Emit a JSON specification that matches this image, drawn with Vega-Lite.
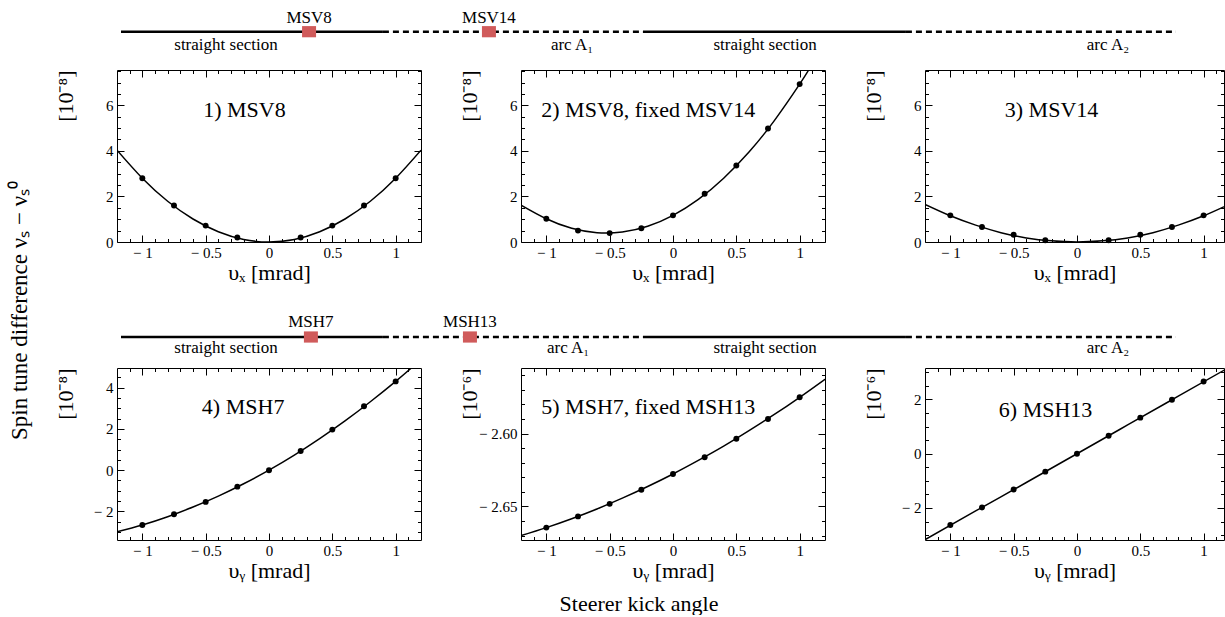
{
  "$schema": "https://vega.github.io/schema/vega-lite/v6.json",
  "background": "white",
  "padding": {"left": 8, "top": 6, "right": 0, "bottom": 0},
  "config": {
    "font": "Liberation Serif",
    "view": {"stroke": "black", "strokeWidth": 1},
    "text": {"font": "Liberation Serif"},
    "axis": {
      "labelFont": "Liberation Serif", "titleFont": "Liberation Serif",
      "labelFontSize": 15, "titleFontSize": 22, "labelColor": "black", "titleColor": "black",
      "titleFontWeight": "normal", "gridColor": "black", "gridOpacity": 1, "gridWidth": 1,
      "labelFlush": false, "labelOverlap": false, "labelBound": false, "ticks": false, "domain": false
    }
  },
  "datasets": {
    "curves": [
      {"p":1,"x":-1.2,"y":4.03},{"p":1,"x":-1,"y":2.8},{"p":1,"x":-0.8,"y":1.79},{"p":1,"x":-0.6,"y":1.01},{"p":1,"x":-0.4,"y":0.45},{"p":1,"x":-0.2,"y":0.11},{"p":1,"x":0,"y":0},{"p":1,"x":0.2,"y":0.11},{"p":1,"x":0.4,"y":0.45},{"p":1,"x":0.6,"y":1.01},{"p":1,"x":0.8,"y":1.79},{"p":1,"x":1,"y":2.8},{"p":1,"x":1.2,"y":4.03},
      {"p":2,"x":-1.2,"y":1.62},{"p":2,"x":-1,"y":1.02},{"p":2,"x":-0.8,"y":0.6},{"p":2,"x":-0.6,"y":0.41},{"p":2,"x":-0.4,"y":0.44},{"p":2,"x":-0.2,"y":0.69},{"p":2,"x":0,"y":1.17},{"p":2,"x":0.2,"y":1.87},{"p":2,"x":0.4,"y":2.8},{"p":2,"x":0.6,"y":3.95},{"p":2,"x":0.8,"y":5.33},{"p":2,"x":1,"y":6.93},{"p":2,"x":1.07,"y":7.54},
      {"p":3,"x":-1.2,"y":1.65},{"p":3,"x":-1,"y":1.15},{"p":3,"x":-0.8,"y":0.74},{"p":3,"x":-0.6,"y":0.41},{"p":3,"x":-0.4,"y":0.18},{"p":3,"x":-0.2,"y":0.05},{"p":3,"x":0,"y":0},{"p":3,"x":0.2,"y":0.05},{"p":3,"x":0.4,"y":0.18},{"p":3,"x":0.6,"y":0.41},{"p":3,"x":0.8,"y":0.74},{"p":3,"x":1,"y":1.15},{"p":3,"x":1.2,"y":1.65},
      {"p":4,"x":-1.2,"y":-2.99},{"p":4,"x":-1,"y":-2.66},{"p":4,"x":-0.8,"y":-2.26},{"p":4,"x":-0.6,"y":-1.79},{"p":4,"x":-0.4,"y":-1.26},{"p":4,"x":-0.2,"y":-0.66},{"p":4,"x":0,"y":0},{"p":4,"x":0.2,"y":0.73},{"p":4,"x":0.4,"y":1.53},{"p":4,"x":0.6,"y":2.39},{"p":4,"x":0.8,"y":3.32},{"p":4,"x":1,"y":4.31},{"p":4,"x":1.124,"y":4.96},
      {"p":5,"x":-1.2,"y":-2.67},{"p":5,"x":-1,"y":-2.6645},{"p":5,"x":-0.8,"y":-2.6584},{"p":5,"x":-0.6,"y":-2.6517},{"p":5,"x":-0.4,"y":-2.6443},{"p":5,"x":-0.2,"y":-2.6363},{"p":5,"x":0,"y":-2.6277},{"p":5,"x":0.2,"y":-2.6184},{"p":5,"x":0.4,"y":-2.6086},{"p":5,"x":0.6,"y":-2.598},{"p":5,"x":0.8,"y":-2.5869},{"p":5,"x":1,"y":-2.5751},{"p":5,"x":1.2,"y":-2.5627},
      {"p":6,"x":-1.2,"y":-3.17},{"p":6,"x":-0.8,"y":-2.11},{"p":6,"x":-0.4,"y":-1.06},{"p":6,"x":0,"y":0},{"p":6,"x":0.4,"y":1.06},{"p":6,"x":0.8,"y":2.12},{"p":6,"x":1.2,"y":3.18}
    ],
    "points": [
      {"p":1,"x":-1,"y":2.8},{"p":1,"x":-0.75,"y":1.6},{"p":1,"x":-0.5,"y":0.72},{"p":1,"x":-0.25,"y":0.2},{"p":1,"x":0.25,"y":0.2},{"p":1,"x":0.5,"y":0.72},{"p":1,"x":0.75,"y":1.6},{"p":1,"x":1,"y":2.8},
      {"p":2,"x":-1,"y":1.02},{"p":2,"x":-0.75,"y":0.5},{"p":2,"x":-0.5,"y":0.39},{"p":2,"x":-0.25,"y":0.6},{"p":2,"x":0,"y":1.17},{"p":2,"x":0.25,"y":2.12},{"p":2,"x":0.5,"y":3.36},{"p":2,"x":0.75,"y":4.98},{"p":2,"x":1,"y":6.93},
      {"p":3,"x":-1,"y":1.17},{"p":3,"x":-0.75,"y":0.66},{"p":3,"x":-0.5,"y":0.32},{"p":3,"x":-0.25,"y":0.08},{"p":3,"x":0.25,"y":0.08},{"p":3,"x":0.5,"y":0.32},{"p":3,"x":0.75,"y":0.66},{"p":3,"x":1,"y":1.17},
      {"p":4,"x":-1,"y":-2.66},{"p":4,"x":-0.75,"y":-2.14},{"p":4,"x":-0.5,"y":-1.54},{"p":4,"x":-0.25,"y":-0.8},{"p":4,"x":0,"y":0},{"p":4,"x":0.25,"y":0.93},{"p":4,"x":0.5,"y":1.97},{"p":4,"x":0.75,"y":3.1},{"p":4,"x":1,"y":4.31},
      {"p":5,"x":-1,"y":-2.6645},{"p":5,"x":-0.75,"y":-2.6568},{"p":5,"x":-0.5,"y":-2.6482},{"p":5,"x":-0.25,"y":-2.6385},{"p":5,"x":0,"y":-2.6277},{"p":5,"x":0.25,"y":-2.6162},{"p":5,"x":0.5,"y":-2.6035},{"p":5,"x":0.75,"y":-2.59},{"p":5,"x":1,"y":-2.5751},
      {"p":6,"x":-1,"y":-2.63},{"p":6,"x":-0.75,"y":-1.98},{"p":6,"x":-0.5,"y":-1.32},{"p":6,"x":-0.25,"y":-0.66},{"p":6,"x":0,"y":0},{"p":6,"x":0.25,"y":0.66},{"p":6,"x":0.5,"y":1.33},{"p":6,"x":0.75,"y":1.99},{"p":6,"x":1,"y":2.66}
    ],
    "labels": [
      {"p":1,"text":"1) MSV8","x":-0.52,"y":5.81},
      {"p":2,"text":"2) MSV8, fixed MSV14","x":-1.04,"y":5.81},
      {"p":3,"text":"3) MSV14","x":-0.57,"y":5.81},
      {"p":4,"text":"4) MSH7","x":-0.53,"y":3.05},
      {"p":5,"text":"5) MSH7, fixed MSH13","x":-1.04,"y":-2.582},
      {"p":6,"text":"6) MSH13","x":-0.617,"y":1.6}
    ],
    "ring": [
      {"kind":"straight","start":0,"end":0.993},
      {"kind":"arc","start":0.993,"end":1.979},
      {"kind":"straight","start":1.979,"end":2.976},
      {"kind":"arc","start":2.976,"end":4.0}
    ],
    "sections": [
      {"d":1,"name":"straight section","pos":0.398},
      {"d":1,"name":"arc A₁","pos":1.71},
      {"d":1,"name":"straight section","pos":2.442},
      {"d":1,"name":"arc A₂","pos":3.742},
      {"d":2,"name":"straight section","pos":0.398},
      {"d":2,"name":"arc A₁","pos":1.695},
      {"d":2,"name":"straight section","pos":2.442},
      {"d":2,"name":"arc A₂","pos":3.742}
    ],
    "steerers": [
      {"d":1,"name":"MSV8","pos":0.713},
      {"d":1,"name":"MSV14","pos":1.395},
      {"d":2,"name":"MSH7","pos":0.72},
      {"d":2,"name":"MSH13","pos":1.323}
    ]
  },
  "title": {"text": "Spin tune difference νₛ − νₛ⁰", "orient": "left", "anchor": "middle", "font": "Liberation Serif", "fontSize": 23, "fontWeight": "normal", "color": "black", "offset": 22},
  "vconcat": [
    {
      "title": {"text": "Steerer kick angle", "orient": "bottom", "anchor": "middle", "font": "Liberation Serif", "fontSize": 22, "fontWeight": "normal", "color": "black", "offset": 12},
      "spacing": 10,
      "vconcat": [
        {
          "width": 1059, "height": 51,
          "view": {"stroke": "transparent"},
          "layer": [
            {"data": {"name": "ring"}, "mark": {"type": "rule", "strokeWidth": 2.5, "color": "black"},
             "encoding": {
               "x": {"field": "start", "type": "quantitative", "scale": {"domain": [-0.0152, 4.0], "nice": false, "zero": false}, "axis": null},
               "x2": {"field": "end"},
               "y": {"datum": 0, "type": "quantitative", "scale": {"domain": [-1.879, 1.764], "nice": false, "zero": false}, "axis": null},
               "strokeDash": {"field": "kind", "type": "nominal", "scale": {"domain": ["straight", "arc"], "range": [[1, 0], [6, 4]]}, "legend": null}
             }},
            {"data": {"name": "sections"}, "transform": [{"filter": "datum.d == 1"}],
             "mark": {"type": "text", "font": "Liberation Serif", "fontSize": 17, "align": "center", "baseline": "middle", "color": "black"},
             "encoding": {"x": {"field": "pos", "type": "quantitative"}, "y": {"datum": -0.93, "type": "quantitative"}, "text": {"field": "name"}}},
            {"data": {"name": "steerers"}, "transform": [{"filter": "datum.d == 1"}],
             "mark": {"type": "point", "shape": "M-1,-0.8H1V0.8H-1Z", "size": 196, "filled": true, "color": "#d05b5b", "opacity": 1},
             "encoding": {"x": {"field": "pos", "type": "quantitative"}, "y": {"datum": 0, "type": "quantitative"}}},
            {"data": {"name": "steerers"}, "transform": [{"filter": "datum.d == 1"}],
             "mark": {"type": "text", "font": "Liberation Serif", "fontSize": 17, "align": "center", "baseline": "middle", "color": "black"},
             "encoding": {"x": {"field": "pos", "type": "quantitative"}, "y": {"datum": 1, "type": "quantitative"}, "text": {"field": "name"}}}
          ]
        },
        {
          "hconcat": [
            {
              "width": 304, "height": 172,
              "resolve": {"axis": {"x": "independent", "y": "independent"}},
              "layer": [
                {"data": {"name": "curves"}, "transform": [{"filter": "datum.p == 1"}],
                 "mark": {"type": "line", "color": "black", "strokeWidth": 1.5, "interpolate": "natural", "clip": true},
                 "encoding": {
                   "x": {"field": "x", "type": "quantitative", "scale": {"domain": [-1.2, 1.2], "nice": false, "zero": false},
                     "axis": {"orient": "bottom", "title": "υₓ [mrad]", "values": [-1,-0.5,0,0.5,1],
                       "labelExpr": "(datum.value < -0.001 ? '− ' : '') + format(abs(datum.value), '~g')",
                       "grid": true, "gridDash": [7, 158, 7, 400],
                       "labelOverlap": false, "labelPadding": 3, "titleY": 30, "titleBaseline": "middle"}},
                   "y": {"field": "y", "type": "quantitative", "scale": {"domain": [0, 7.55], "nice": false, "zero": false},
                     "axis": {"orient": "left", "title": "[10⁻⁸]", "values": [0,2,4,6],
                       "labelExpr": "(datum.value < -0.001 ? '− ' : '') + format(abs(datum.value), '~g')",
                       "grid": true, "gridDash": [7, 290, 7, 400],
                       "labelOverlap": false, "labelPadding": 4, "titleFontSize": 22, "titleX": -52, "titleY": 0, "titleAlign": "right", "titleAngle": -90, "titleBaseline": "middle"}}
                 }},
                {"data": {"name": "points"}, "transform": [{"filter": "datum.p == 1"}],
                 "mark": {"type": "circle", "color": "black", "size": 35, "opacity": 1},
                 "encoding": {
                   "x": {"field": "x", "type": "quantitative", "axis": {"orient": "bottom", "title": null, "labels": false, "values": [-1.1,-0.9,-0.8,-0.7,-0.6,-0.4,-0.3,-0.2,-0.1,0.1,0.2,0.3,0.4,0.6,0.7,0.8,0.9,1.1], "grid": true, "gridDash": [3.5, 165, 3.5, 400]}},
                   "y": {"field": "y", "type": "quantitative", "axis": {"orient": "left", "title": null, "labels": false, "values": [0.5,1,1.5,2.5,3,3.5,4.5,5,5.5,6.5,7,7.5], "grid": true, "gridDash": [3.5, 297, 3.5, 400]}}
                 }},
                {"data": {"name": "labels"}, "transform": [{"filter": "datum.p == 1"}],
                 "mark": {"type": "text", "align": "left", "baseline": "middle", "font": "Liberation Serif", "fontSize": 22, "color": "black"},
                 "encoding": {"x": {"field": "x", "type": "quantitative", "axis": null}, "y": {"field": "y", "type": "quantitative", "axis": null}, "text": {"field": "text"}}}
              ]
            },
            {
              "width": 304, "height": 172,
              "resolve": {"axis": {"x": "independent", "y": "independent"}},
              "layer": [
                {"data": {"name": "curves"}, "transform": [{"filter": "datum.p == 2"}],
                 "mark": {"type": "line", "color": "black", "strokeWidth": 1.5, "interpolate": "natural", "clip": true},
                 "encoding": {
                   "x": {"field": "x", "type": "quantitative", "scale": {"domain": [-1.2, 1.2], "nice": false, "zero": false},
                     "axis": {"orient": "bottom", "title": "υₓ [mrad]", "values": [-1,-0.5,0,0.5,1],
                       "labelExpr": "(datum.value < -0.001 ? '− ' : '') + format(abs(datum.value), '~g')",
                       "grid": true, "gridDash": [7, 158, 7, 400],
                       "labelOverlap": false, "labelPadding": 3, "titleY": 30, "titleBaseline": "middle"}},
                   "y": {"field": "y", "type": "quantitative", "scale": {"domain": [0, 7.55], "nice": false, "zero": false},
                     "axis": {"orient": "left", "title": "[10⁻⁸]", "values": [0,2,4,6],
                       "labelExpr": "(datum.value < -0.001 ? '− ' : '') + format(abs(datum.value), '~g')",
                       "grid": true, "gridDash": [7, 290, 7, 400],
                       "labelOverlap": false, "labelPadding": 4, "titleFontSize": 22, "titleX": -52, "titleY": 0, "titleAlign": "right", "titleAngle": -90, "titleBaseline": "middle"}}
                 }},
                {"data": {"name": "points"}, "transform": [{"filter": "datum.p == 2"}],
                 "mark": {"type": "circle", "color": "black", "size": 35, "opacity": 1},
                 "encoding": {
                   "x": {"field": "x", "type": "quantitative", "axis": {"orient": "bottom", "title": null, "labels": false, "values": [-1.1,-0.9,-0.8,-0.7,-0.6,-0.4,-0.3,-0.2,-0.1,0.1,0.2,0.3,0.4,0.6,0.7,0.8,0.9,1.1], "grid": true, "gridDash": [3.5, 165, 3.5, 400]}},
                   "y": {"field": "y", "type": "quantitative", "axis": {"orient": "left", "title": null, "labels": false, "values": [0.5,1,1.5,2.5,3,3.5,4.5,5,5.5,6.5,7,7.5], "grid": true, "gridDash": [3.5, 297, 3.5, 400]}}
                 }},
                {"data": {"name": "labels"}, "transform": [{"filter": "datum.p == 2"}],
                 "mark": {"type": "text", "align": "left", "baseline": "middle", "font": "Liberation Serif", "fontSize": 22, "color": "black"},
                 "encoding": {"x": {"field": "x", "type": "quantitative", "axis": null}, "y": {"field": "y", "type": "quantitative", "axis": null}, "text": {"field": "text"}}}
              ]
            },
            {
              "width": 299, "height": 172,
              "resolve": {"axis": {"x": "independent", "y": "independent"}},
              "layer": [
                {"data": {"name": "curves"}, "transform": [{"filter": "datum.p == 3"}],
                 "mark": {"type": "line", "color": "black", "strokeWidth": 1.5, "interpolate": "natural", "clip": true},
                 "encoding": {
                   "x": {"field": "x", "type": "quantitative", "scale": {"domain": [-1.2, 1.161], "nice": false, "zero": false},
                     "axis": {"orient": "bottom", "title": "υₓ [mrad]", "values": [-1,-0.5,0,0.5,1],
                       "labelExpr": "(datum.value < -0.001 ? '− ' : '') + format(abs(datum.value), '~g')",
                       "grid": true, "gridDash": [7, 158, 7, 400],
                       "labelOverlap": false, "labelPadding": 3, "titleY": 30, "titleBaseline": "middle"}},
                   "y": {"field": "y", "type": "quantitative", "scale": {"domain": [0, 7.55], "nice": false, "zero": false},
                     "axis": {"orient": "left", "title": "[10⁻⁸]", "values": [0,2,4,6],
                       "labelExpr": "(datum.value < -0.001 ? '− ' : '') + format(abs(datum.value), '~g')",
                       "grid": true, "gridDash": [7, 285, 7, 400],
                       "labelOverlap": false, "labelPadding": 4, "titleFontSize": 22, "titleX": -52, "titleY": 0, "titleAlign": "right", "titleAngle": -90, "titleBaseline": "middle"}}
                 }},
                {"data": {"name": "points"}, "transform": [{"filter": "datum.p == 3"}],
                 "mark": {"type": "circle", "color": "black", "size": 35, "opacity": 1},
                 "encoding": {
                   "x": {"field": "x", "type": "quantitative", "axis": {"orient": "bottom", "title": null, "labels": false, "values": [-1.1,-0.9,-0.8,-0.7,-0.6,-0.4,-0.3,-0.2,-0.1,0.1,0.2,0.3,0.4,0.6,0.7,0.8,0.9,1.1], "grid": true, "gridDash": [3.5, 165, 3.5, 400]}},
                   "y": {"field": "y", "type": "quantitative", "axis": {"orient": "left", "title": null, "labels": false, "values": [0.5,1,1.5,2.5,3,3.5,4.5,5,5.5,6.5,7,7.5], "grid": true, "gridDash": [3.5, 292, 3.5, 400]}}
                 }},
                {"data": {"name": "labels"}, "transform": [{"filter": "datum.p == 3"}],
                 "mark": {"type": "text", "align": "left", "baseline": "middle", "font": "Liberation Serif", "fontSize": 22, "color": "black"},
                 "encoding": {"x": {"field": "x", "type": "quantitative", "axis": null}, "y": {"field": "y", "type": "quantitative", "axis": null}, "text": {"field": "text"}}}
              ]
            }
          ],
          "spacing": 100,
          "bounds": "flush"
        },
        {
          "width": 1059, "height": 61,
          "view": {"stroke": "transparent"},
          "layer": [
            {"data": {"name": "ring"}, "mark": {"type": "rule", "strokeWidth": 2.5, "color": "black"},
             "encoding": {
               "x": {"field": "start", "type": "quantitative", "scale": {"domain": [-0.0152, 4.0], "nice": false, "zero": false}, "axis": null},
               "x2": {"field": "end"},
               "y": {"datum": 0, "type": "quantitative", "scale": {"domain": [-1.357, 3.0], "nice": false, "zero": false}, "axis": null},
               "strokeDash": {"field": "kind", "type": "nominal", "scale": {"domain": ["straight", "arc"], "range": [[1, 0], [6, 4]]}, "legend": null}
             }},
            {"data": {"name": "sections"}, "transform": [{"filter": "datum.d == 2"}],
             "mark": {"type": "text", "font": "Liberation Serif", "fontSize": 17, "align": "center", "baseline": "middle", "color": "black"},
             "encoding": {"x": {"field": "pos", "type": "quantitative"}, "y": {"datum": -0.8, "type": "quantitative"}, "text": {"field": "name"}}},
            {"data": {"name": "steerers"}, "transform": [{"filter": "datum.d == 2"}],
             "mark": {"type": "point", "shape": "M-1,-0.8H1V0.8H-1Z", "size": 196, "filled": true, "color": "#d05b5b", "opacity": 1},
             "encoding": {"x": {"field": "pos", "type": "quantitative"}, "y": {"datum": 0, "type": "quantitative"}}},
            {"data": {"name": "steerers"}, "transform": [{"filter": "datum.d == 2"}],
             "mark": {"type": "text", "font": "Liberation Serif", "fontSize": 17, "align": "center", "baseline": "middle", "color": "black"},
             "encoding": {"x": {"field": "pos", "type": "quantitative"}, "y": {"datum": 1.05, "type": "quantitative"}, "text": {"field": "name"}}}
          ]
        },
        {
          "hconcat": [
            {
              "width": 304, "height": 172,
              "resolve": {"axis": {"x": "independent", "y": "independent"}},
              "layer": [
                {"data": {"name": "curves"}, "transform": [{"filter": "datum.p == 4"}],
                 "mark": {"type": "line", "color": "black", "strokeWidth": 1.5, "interpolate": "natural", "clip": true},
                 "encoding": {
                   "x": {"field": "x", "type": "quantitative", "scale": {"domain": [-1.2, 1.2], "nice": false, "zero": false},
                     "axis": {"orient": "bottom", "title": "υᵧ [mrad]", "values": [-1,-0.5,0,0.5,1],
                       "labelExpr": "(datum.value < -0.001 ? '− ' : '') + format(abs(datum.value), '~g')",
                       "grid": true, "gridDash": [7, 158, 7, 400],
                       "labelOverlap": false, "labelPadding": 3, "titleY": 30, "titleBaseline": "middle"}},
                   "y": {"field": "y", "type": "quantitative", "scale": {"domain": [-3.39, 4.96], "nice": false, "zero": false},
                     "axis": {"orient": "left", "title": "[10⁻⁸]", "values": [-2,0,2,4],
                       "labelExpr": "(datum.value < -0.001 ? '− ' : '') + format(abs(datum.value), '~g')",
                       "grid": true, "gridDash": [7, 290, 7, 400],
                       "labelOverlap": false, "labelPadding": 4, "titleFontSize": 22, "titleX": -52, "titleY": 0, "titleAlign": "right", "titleAngle": -90, "titleBaseline": "middle"}}
                 }},
                {"data": {"name": "points"}, "transform": [{"filter": "datum.p == 4"}],
                 "mark": {"type": "circle", "color": "black", "size": 35, "opacity": 1},
                 "encoding": {
                   "x": {"field": "x", "type": "quantitative", "axis": {"orient": "bottom", "title": null, "labels": false, "values": [-1.1,-0.9,-0.8,-0.7,-0.6,-0.4,-0.3,-0.2,-0.1,0.1,0.2,0.3,0.4,0.6,0.7,0.8,0.9,1.1], "grid": true, "gridDash": [3.5, 165, 3.5, 400]}},
                   "y": {"field": "y", "type": "quantitative", "axis": {"orient": "left", "title": null, "labels": false, "values": [-3,-2.5,-1.5,-1,-0.5,0.5,1,1.5,2.5,3,3.5,4.5], "grid": true, "gridDash": [3.5, 297, 3.5, 400]}}
                 }},
                {"data": {"name": "labels"}, "transform": [{"filter": "datum.p == 4"}],
                 "mark": {"type": "text", "align": "left", "baseline": "middle", "font": "Liberation Serif", "fontSize": 22, "color": "black"},
                 "encoding": {"x": {"field": "x", "type": "quantitative", "axis": null}, "y": {"field": "y", "type": "quantitative", "axis": null}, "text": {"field": "text"}}}
              ]
            },
            {
              "width": 304, "height": 172,
              "resolve": {"axis": {"x": "independent", "y": "independent"}},
              "layer": [
                {"data": {"name": "curves"}, "transform": [{"filter": "datum.p == 5"}],
                 "mark": {"type": "line", "color": "black", "strokeWidth": 1.5, "interpolate": "natural", "clip": true},
                 "encoding": {
                   "x": {"field": "x", "type": "quantitative", "scale": {"domain": [-1.2, 1.2], "nice": false, "zero": false},
                     "axis": {"orient": "bottom", "title": "υᵧ [mrad]", "values": [-1,-0.5,0,0.5,1],
                       "labelExpr": "(datum.value < -0.001 ? '− ' : '') + format(abs(datum.value), '~g')",
                       "grid": true, "gridDash": [7, 158, 7, 400],
                       "labelOverlap": false, "labelPadding": 3, "titleY": 30, "titleBaseline": "middle"}},
                   "y": {"field": "y", "type": "quantitative", "scale": {"domain": [-2.673, -2.555], "nice": false, "zero": false},
                     "axis": {"orient": "left", "title": "[10⁻⁶]", "values": [-2.65,-2.6],
                       "labelExpr": "'− ' + format(abs(datum.value), '.2f')",
                       "grid": true, "gridDash": [7, 290, 7, 400],
                       "labelOverlap": false, "labelPadding": 4, "titleFontSize": 22, "titleX": -52, "titleY": 0, "titleAlign": "right", "titleAngle": -90, "titleBaseline": "middle"}}
                 }},
                {"data": {"name": "points"}, "transform": [{"filter": "datum.p == 5"}],
                 "mark": {"type": "circle", "color": "black", "size": 35, "opacity": 1},
                 "encoding": {
                   "x": {"field": "x", "type": "quantitative", "axis": {"orient": "bottom", "title": null, "labels": false, "values": [-1.1,-0.9,-0.8,-0.7,-0.6,-0.4,-0.3,-0.2,-0.1,0.1,0.2,0.3,0.4,0.6,0.7,0.8,0.9,1.1], "grid": true, "gridDash": [3.5, 165, 3.5, 400]}},
                   "y": {"field": "y", "type": "quantitative", "axis": {"orient": "left", "title": null, "labels": false, "values": [-2.67,-2.66,-2.64,-2.63,-2.62,-2.61,-2.59,-2.58,-2.57,-2.56], "grid": true, "gridDash": [3.5, 297, 3.5, 400]}}
                 }},
                {"data": {"name": "labels"}, "transform": [{"filter": "datum.p == 5"}],
                 "mark": {"type": "text", "align": "left", "baseline": "middle", "font": "Liberation Serif", "fontSize": 22, "color": "black"},
                 "encoding": {"x": {"field": "x", "type": "quantitative", "axis": null}, "y": {"field": "y", "type": "quantitative", "axis": null}, "text": {"field": "text"}}}
              ]
            },
            {
              "width": 299, "height": 172,
              "resolve": {"axis": {"x": "independent", "y": "independent"}},
              "layer": [
                {"data": {"name": "curves"}, "transform": [{"filter": "datum.p == 6"}],
                 "mark": {"type": "line", "color": "black", "strokeWidth": 1.5, "interpolate": "natural", "clip": true},
                 "encoding": {
                   "x": {"field": "x", "type": "quantitative", "scale": {"domain": [-1.2, 1.161], "nice": false, "zero": false},
                     "axis": {"orient": "bottom", "title": "υᵧ [mrad]", "values": [-1,-0.5,0,0.5,1],
                       "labelExpr": "(datum.value < -0.001 ? '− ' : '') + format(abs(datum.value), '~g')",
                       "grid": true, "gridDash": [7, 158, 7, 400],
                       "labelOverlap": false, "labelPadding": 3, "titleY": 30, "titleBaseline": "middle"}},
                   "y": {"field": "y", "type": "quantitative", "scale": {"domain": [-3.18, 3.16], "nice": false, "zero": false},
                     "axis": {"orient": "left", "title": "[10⁻⁶]", "values": [-2,0,2],
                       "labelExpr": "(datum.value < -0.001 ? '− ' : '') + format(abs(datum.value), '~g')",
                       "grid": true, "gridDash": [7, 285, 7, 400],
                       "labelOverlap": false, "labelPadding": 4, "titleFontSize": 22, "titleX": -52, "titleY": 0, "titleAlign": "right", "titleAngle": -90, "titleBaseline": "middle"}}
                 }},
                {"data": {"name": "points"}, "transform": [{"filter": "datum.p == 6"}],
                 "mark": {"type": "circle", "color": "black", "size": 35, "opacity": 1},
                 "encoding": {
                   "x": {"field": "x", "type": "quantitative", "axis": {"orient": "bottom", "title": null, "labels": false, "values": [-1.1,-0.9,-0.8,-0.7,-0.6,-0.4,-0.3,-0.2,-0.1,0.1,0.2,0.3,0.4,0.6,0.7,0.8,0.9,1.1], "grid": true, "gridDash": [3.5, 165, 3.5, 400]}},
                   "y": {"field": "y", "type": "quantitative", "axis": {"orient": "left", "title": null, "labels": false, "values": [-3,-2.5,-1.5,-1,-0.5,0.5,1,1.5,2.5,3], "grid": true, "gridDash": [3.5, 292, 3.5, 400]}}
                 }},
                {"data": {"name": "labels"}, "transform": [{"filter": "datum.p == 6"}],
                 "mark": {"type": "text", "align": "left", "baseline": "middle", "font": "Liberation Serif", "fontSize": 22, "color": "black"},
                 "encoding": {"x": {"field": "x", "type": "quantitative", "axis": null}, "y": {"field": "y", "type": "quantitative", "axis": null}, "text": {"field": "text"}}}
              ]
            }
          ],
          "spacing": 100,
          "bounds": "flush"
        }
      ]
    }
  ]
}
